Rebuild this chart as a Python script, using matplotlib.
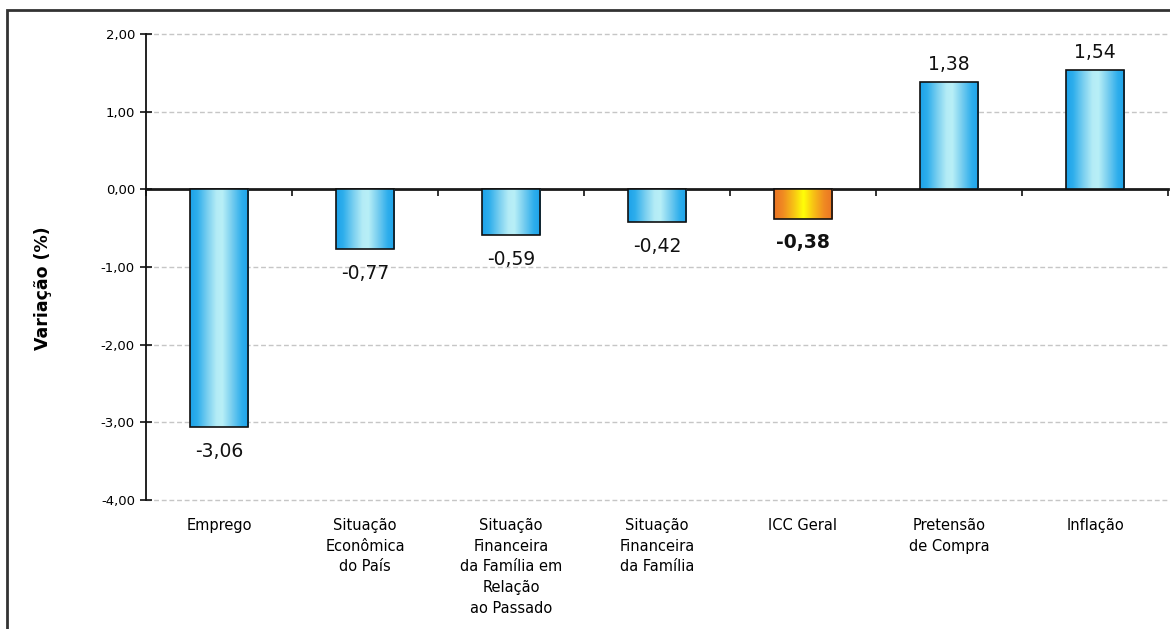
import numpy as np
import matplotlib
matplotlib.use('Agg')
import matplotlib.pyplot as plt
from matplotlib.colors import LinearSegmentedColormap
from matplotlib.patches import Rectangle

categorias = ['Emprego',
              'Situação\nEconômica\ndo País',
              'Situação\nFinanceira\nda Família em\nRelação\nao Passado',
              'Situação\nFinanceira\nda Família',
              'ICC Geral',
              'Pretensão\nde Compra',
              'Inflação']
valores = [-3.06, -0.77, -0.59, -0.42, -0.38, 1.38, 1.54]
rotulos = ['-3,06', '-0,77', '-0,59', '-0,42', '-0,38', '1,38', '1,54']
destaque = 'ICC Geral'
yticks = [2, 1, 0, -1, -2, -3, -4]
ytick_labels = ['2,00', '1,00', '0,00', '-1,00', '-2,00', '-3,00', '-4,00']

azul = LinearSegmentedColormap.from_list('azul', [
    (0.0, '#1ca2ea'), (0.12, '#2eaeec'), (0.3, '#7cd0f0'), (0.45, '#b4ecf6'),
    (0.55, '#b8eff7'), (0.7, '#7cd0f0'), (0.88, '#2eaeec'), (1.0, '#1ca2ea')])
laranja = LinearSegmentedColormap.from_list('laranja', [
    (0.0, '#ea7424'), (0.15, '#f08a22'), (0.35, '#f8c814'), (0.5, '#ffff08'),
    (0.65, '#f8c814'), (0.85, '#f08a22'), (1.0, '#ea7424')])
grad = np.linspace(0, 1, 256).reshape(1, -1)

fig = plt.figure(figsize=(11.7, 6.29), dpi=100)
ax = fig.add_axes([146/1170, 1 - 500/629, 1022/1170, 466/629])

x = np.arange(len(valores))
bars = ax.bar(x, valores, width=0.4, color='none', edgecolor='#111111', linewidth=1.2, zorder=3)

for b, cat in zip(bars, categorias):
    x0, y0 = b.get_x(), b.get_y()
    w, h = b.get_width(), b.get_height()
    cmap = laranja if cat == destaque else azul
    im = ax.imshow(grad, cmap=cmap, aspect='auto', interpolation='bilinear',
                   extent=(x0, x0 + w, min(y0, y0 + h), max(y0, y0 + h)), zorder=2)
    im.set_clip_path(b)

for xi, v, lab, cat in zip(x, valores, rotulos, categorias):
    peso = 'bold' if cat == destaque else 'normal'
    if v < 0:
        ax.annotate(lab, (xi, v), xytext=(0, -10.5), textcoords='offset points',
                    ha='center', va='top', fontsize=13.5, fontweight=peso, color='#111111')
    else:
        ax.annotate(lab, (xi, v), xytext=(0, 8.5), textcoords='offset points',
                    ha='center', va='baseline', fontsize=13.5, fontweight=peso, color='#111111')

ax.set_xlim(-0.5, len(valores) - 0.5)
ax.set_ylim(-4, 2)
ax.set_yticks(yticks)
ax.set_yticklabels(ytick_labels, fontsize=9.5)
ax.grid(axis='y', linestyle=(0, (3.5, 2)), color='#c6c6c6', linewidth=1, zorder=0)
for gl, yv in zip(ax.get_ygridlines(), yticks):
    gl.set_clip_on(False)
    if yv == 0:
        gl.set_visible(False)
ax.set_axisbelow(True)

ax.set_xticks(x)
ax.set_xticklabels(categorias, fontsize=10.5, linespacing=1.47, va='top')
ax.tick_params(axis='x', length=0, pad=13)
ax.tick_params(axis='y', direction='inout', length=8, width=1.2, color='#111111', pad=4)

for s in ['top', 'right', 'bottom']:
    ax.spines[s].set_visible(False)
ax.spines['left'].set_linewidth(1.3)
ax.spines['left'].set_color('#111111')

# linha do zero com marcas entre categorias
zero = ax.secondary_xaxis(4 / 6)
zero.set_xticks(np.arange(len(valores) + 1) - 0.5)
zero.tick_params(direction='in', length=5, width=1.2, color='#111111', labeltop=False, labelbottom=False)
zero.spines['bottom'].set_visible(False)
zero.spines['top'].set_linewidth(2)
zero.spines['top'].set_color('#1a1a1a')

fig.text(43/1170, 1 - 288/629, 'Variação (%)', rotation=90, ha='center', va='center',
         fontsize=12.5, fontweight='bold')

fig.patches.append(Rectangle((7/1170, -0.1), 1.2, 1 - 10/629 + 0.1, transform=fig.transFigure,
                             fill=False, edgecolor='#333333', linewidth=2, clip_on=False))

fig.savefig('out.png', dpi=100)
